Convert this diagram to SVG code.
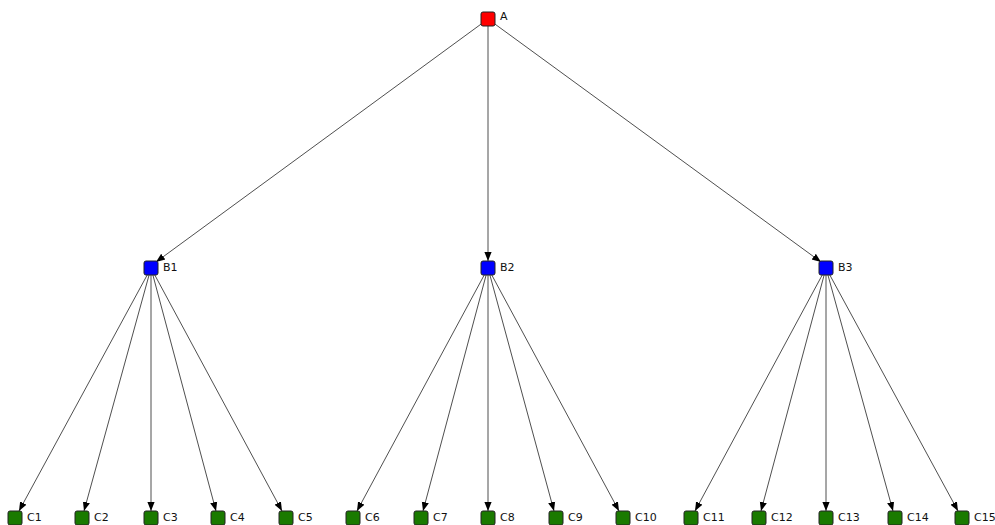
<svg xmlns="http://www.w3.org/2000/svg" width="995" height="525" viewBox="0 0 995 525">
<defs>
<style>
.n rect{stroke:#222;stroke-width:1;}
.a rect{fill:#ff0000;}
.b rect{fill:#0000ff;}
.c rect{fill:#1a7a00;}
text{font-family:"DejaVu Sans",Verdana,sans-serif;font-size:11px;fill:#111;}
#edges line{stroke:#222;stroke-width:0.8;marker-end:url(#arr);}
</style>
<marker id="arr" viewBox="0 0 10 10" refX="10" refY="5" markerWidth="9" markerHeight="9" markerUnits="userSpaceOnUse" orient="auto">
<path d="M0,1 L10,5 L0,9 Z" fill="#000"/>
</marker>
</defs>
<rect width="995" height="525" fill="#fff"/>
<g id="edges">
<line x1="488" y1="19" x2="156" y2="262"/>
<line x1="488" y1="19" x2="488" y2="261"/>
<line x1="488" y1="19" x2="821" y2="262"/>
<line x1="151" y1="268" x2="19" y2="511"/>
<line x1="151" y1="268" x2="84" y2="511"/>
<line x1="151" y1="268" x2="151" y2="511"/>
<line x1="151" y1="268" x2="216" y2="511"/>
<line x1="151" y1="268" x2="282" y2="511"/>
<line x1="488" y1="268" x2="357" y2="511"/>
<line x1="488" y1="268" x2="423" y2="511"/>
<line x1="488" y1="268" x2="488" y2="511"/>
<line x1="488" y1="268" x2="554" y2="511"/>
<line x1="488" y1="268" x2="619" y2="511"/>
<line x1="826" y1="268" x2="695" y2="511"/>
<line x1="826" y1="268" x2="761" y2="511"/>
<line x1="826" y1="268" x2="826" y2="511"/>
<line x1="826" y1="268" x2="893" y2="511"/>
<line x1="826" y1="268" x2="958" y2="511"/>
</g>
<g id="A" class="n a"><rect x="481" y="12" width="14" height="14" rx="2"/><text x="500" y="20">A</text></g>
<g id="B1" class="n b"><rect x="144" y="261" width="14" height="14" rx="2"/><text x="163" y="271">B1</text></g>
<g id="B2" class="n b"><rect x="481" y="261" width="14" height="14" rx="2"/><text x="500" y="271">B2</text></g>
<g id="B3" class="n b"><rect x="819" y="261" width="14" height="14" rx="2"/><text x="838" y="271">B3</text></g>
<g id="C1" class="n c"><rect x="8" y="511" width="14" height="14" rx="2"/><text x="27" y="521">C1</text></g>
<g id="C2" class="n c"><rect x="75" y="511" width="14" height="14" rx="2"/><text x="94" y="521">C2</text></g>
<g id="C3" class="n c"><rect x="144" y="511" width="14" height="14" rx="2"/><text x="163" y="521">C3</text></g>
<g id="C4" class="n c"><rect x="211" y="511" width="14" height="14" rx="2"/><text x="230" y="521">C4</text></g>
<g id="C5" class="n c"><rect x="279" y="511" width="14" height="14" rx="2"/><text x="298" y="521">C5</text></g>
<g id="C6" class="n c"><rect x="346" y="511" width="14" height="14" rx="2"/><text x="365" y="521">C6</text></g>
<g id="C7" class="n c"><rect x="414" y="511" width="14" height="14" rx="2"/><text x="433" y="521">C7</text></g>
<g id="C8" class="n c"><rect x="481" y="511" width="14" height="14" rx="2"/><text x="500" y="521">C8</text></g>
<g id="C9" class="n c"><rect x="549" y="511" width="14" height="14" rx="2"/><text x="568" y="521">C9</text></g>
<g id="C10" class="n c"><rect x="616" y="511" width="14" height="14" rx="2"/><text x="635" y="521">C10</text></g>
<g id="C11" class="n c"><rect x="684" y="511" width="14" height="14" rx="2"/><text x="703" y="521">C11</text></g>
<g id="C12" class="n c"><rect x="752" y="511" width="14" height="14" rx="2"/><text x="771" y="521">C12</text></g>
<g id="C13" class="n c"><rect x="819" y="511" width="14" height="14" rx="2"/><text x="838" y="521">C13</text></g>
<g id="C14" class="n c"><rect x="888" y="511" width="14" height="14" rx="2"/><text x="907" y="521">C14</text></g>
<g id="C15" class="n c"><rect x="955" y="511" width="14" height="14" rx="2"/><text x="974" y="521">C15</text></g>
</svg>
